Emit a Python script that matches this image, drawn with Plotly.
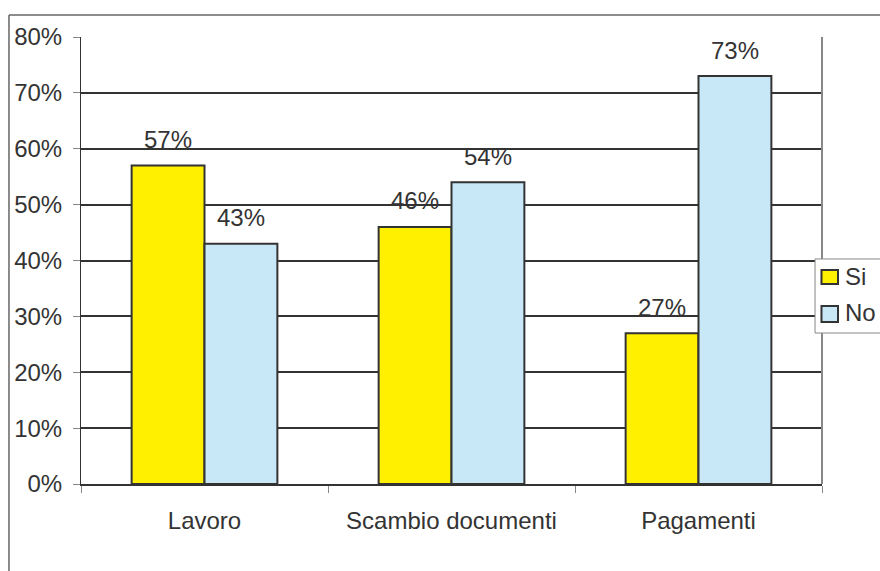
import plotly.graph_objects as go

categories = ["Lavoro", "Scambio documenti", "Pagamenti"]
si_values = [0.57, 0.46, 0.27]
no_values = [0.43, 0.54, 0.73]
y_ticks = [0, 0.1, 0.2, 0.3, 0.4, 0.5, 0.6, 0.7, 0.8]

FONT = "Liberation Sans, Arial, sans-serif"
TEXT_COLOR = "#333333"
EDGE = "#333333"
FS = 24
SI_COLOR = "#FFF000"
NO_COLOR = "#C8E8F8"
BARGAP = 0.41
PLOT_W = 880 - 81 - 58


def pct_label(v):
    return f"{round(v * 100)}%"


fig = go.Figure()
fig.add_trace(go.Bar(
    name="Si", x=categories, y=si_values,
    marker=dict(color=SI_COLOR, line=dict(color=EDGE, width=2)),
))
fig.add_trace(go.Bar(
    name="No", x=categories, y=no_values,
    marker=dict(color=NO_COLOR, line=dict(color=EDGE, width=2)),
))

fig.update_layout(
    width=880, height=571,
    margin=dict(l=81, r=58, t=37, b=87, autoexpand=False),
    paper_bgcolor="white", plot_bgcolor="white",
    barmode="group", bargap=BARGAP, bargroupgap=0,
    font=dict(family=FONT, size=FS, color=TEXT_COLOR),
    showlegend=False,
)

fig.update_xaxes(
    type="category", tickson="boundaries",
    ticks="outside", ticklen=7, tickcolor="#888888", tickwidth=1,
    showline=True, linecolor=EDGE, linewidth=2,
    showgrid=False, ticklabelstandoff=14,
    tickfont=dict(size=FS, color=TEXT_COLOR, family=FONT),
)
fig.update_yaxes(
    range=[0, 0.8], tickvals=y_ticks, tickformat=".0%",
    ticks="outside", ticklen=7, tickcolor="#888888", tickwidth=1,
    showline=True, linecolor=EDGE, linewidth=1,
    showgrid=True, gridcolor=EDGE, gridwidth=2,
    zeroline=False, ticklabelstandoff=6,
    tickfont=dict(size=FS, color=TEXT_COLOR, family=FONT),
)

# value labels above each bar, shifted to the centre of its slot in the group
bar_px = PLOT_W / len(categories) * (1 - BARGAP) / 2
for offset, values in ((-bar_px / 2, si_values), (bar_px / 2, no_values)):
    for cat, v in zip(categories, values):
        fig.add_annotation(text=pct_label(v), x=cat, y=v, xref="x", yref="y",
                           xshift=offset, yshift=26, yanchor="middle",
                           showarrow=False,
                           font=dict(size=FS, color=TEXT_COLOR, family=FONT))

# plot-area right edge and the chart frame (top and left sides visible)
fig.add_shape(type="line", xref="paper", yref="paper", x0=1, x1=1, y0=0, y1=1,
              line=dict(color="#888888", width=2))
fig.add_shape(type="line", xref="paper", yref="paper", x0=-0.0972, x1=1.2, y0=1.0492, y1=1.0492,
              line=dict(color="#666666", width=1.5))
fig.add_shape(type="line", xref="paper", yref="paper", x0=-0.0972, x1=-0.0972, y0=-0.3, y1=1.0492,
              line=dict(color="#666666", width=1.5))

# compact legend box sitting over the right edge of the plot area
fig.add_shape(type="rect", xref="paper", yref="paper", x0=0.9906, x1=1.12, y0=0.3378, y1=0.5034,
              line=dict(color="#888888", width=1), fillcolor="white", layer="above")
legend_rows = [(fig.data[0].name, SI_COLOR, 0.4787, 0.4474, 0.4631),
               (fig.data[1].name, NO_COLOR, 0.3982, 0.3624, 0.3826)]
for name, color, top, bottom, mid in legend_rows:
    fig.add_shape(type="rect", xref="paper", yref="paper", x0=0.9993, x1=1.0216, y0=bottom, y1=top,
                  line=dict(color=EDGE, width=2), fillcolor=color, layer="above")
    fig.add_annotation(text=name, xref="paper", yref="paper", x=1.0283, y=mid,
                       xanchor="left", yanchor="middle", showarrow=False,
                       font=dict(size=FS, color=TEXT_COLOR, family=FONT))

fig.write_html("out.html")
